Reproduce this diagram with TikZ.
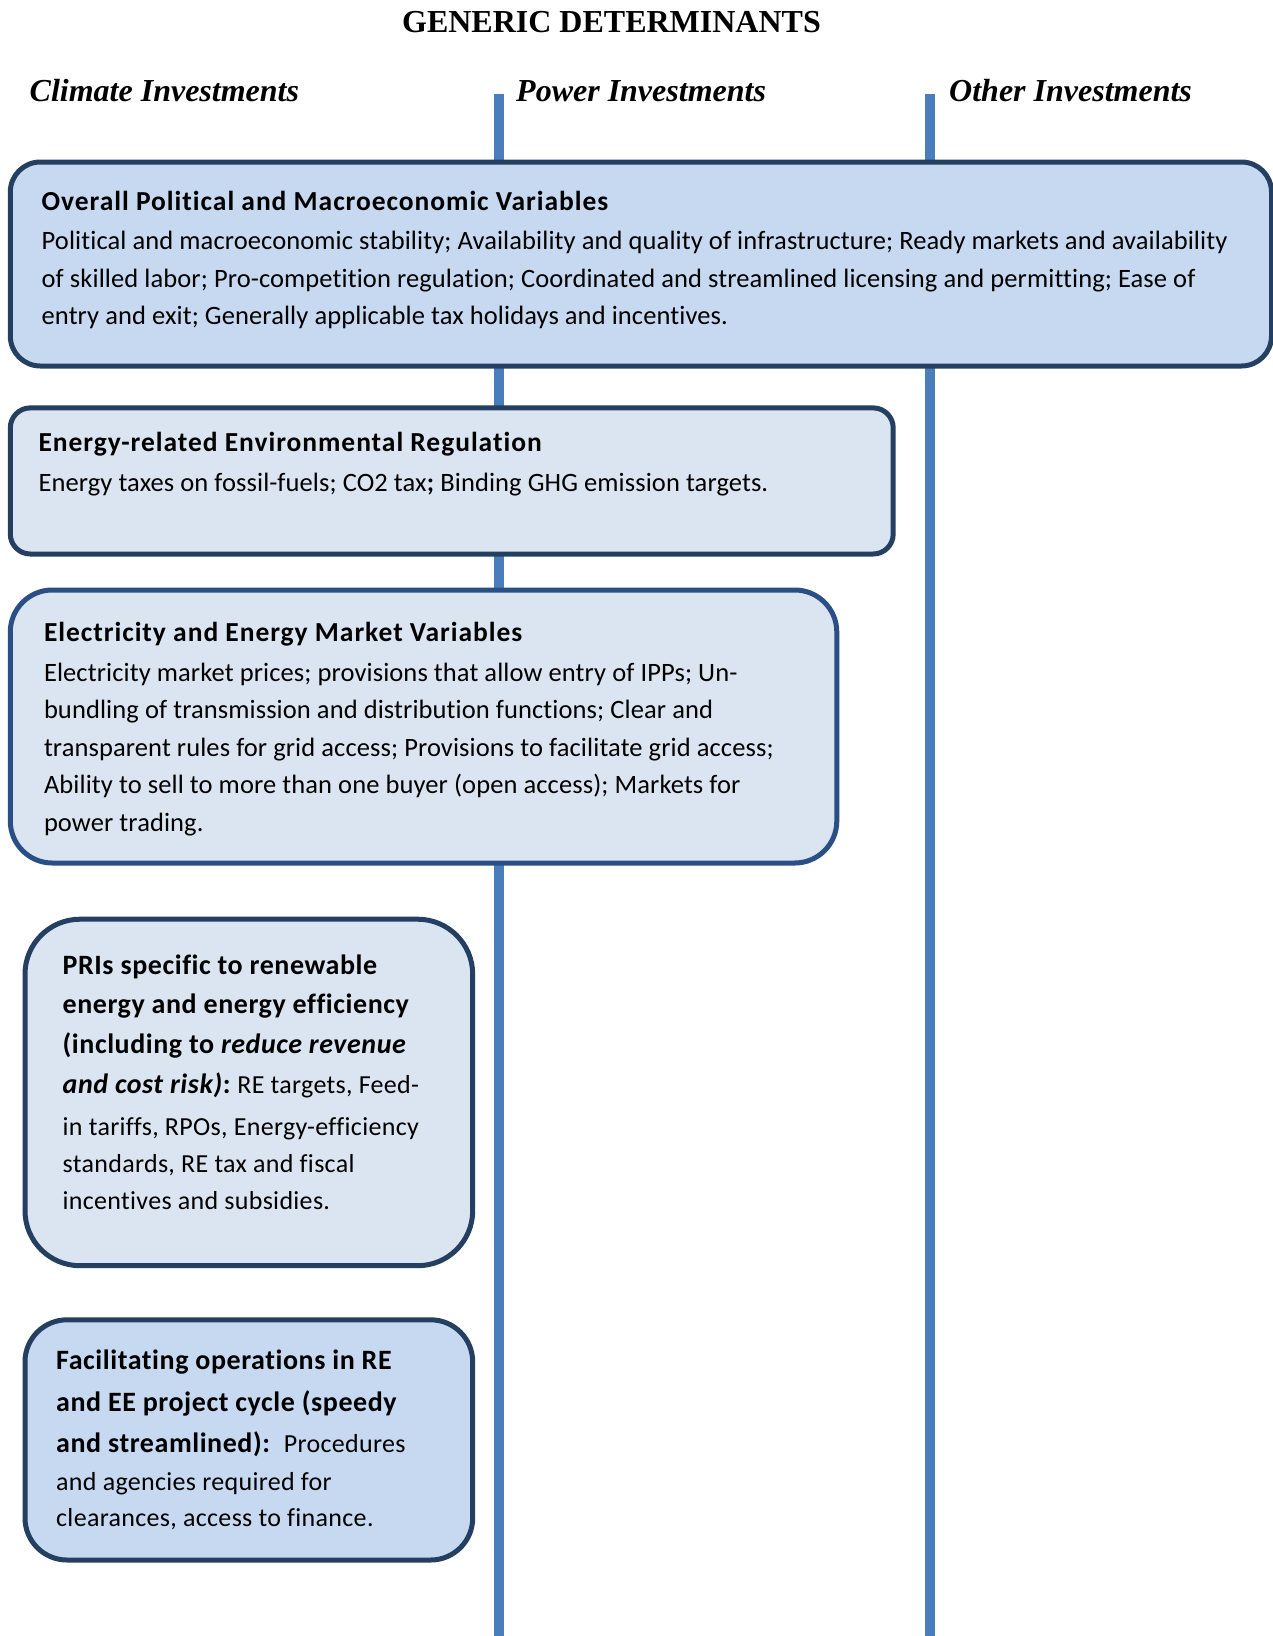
\documentclass[tikz,border=0pt]{standalone}
\usepackage{fontspec}
\setmainfont{Carlito}[Ligatures=NoCommon]
\newfontfamily\serifhead{Liberation Serif}
\newfontfamily\bodyfam{Carlito}[Ligatures=NoCommon, LetterSpace=0.4]
\newfontfamily\widereg{Carlito}[Ligatures=NoCommon, LetterSpace=1.2]
\newfontfamily\widebold{Carlito}[Ligatures=NoCommon, LetterSpace=2]
\newfontfamily\headbold{Carlito}[Ligatures=NoCommon, LetterSpace=3.5]
\definecolor{linecol}{HTML}{4A7EBB}
\definecolor{navy}{HTML}{243F60}
\definecolor{navyb}{HTML}{2A4F84}
\definecolor{filldark}{HTML}{C6D9F1}
\definecolor{filllight}{HTML}{DBE5F1}
\tikzset{
  boxbase/.style={draw=navy, line width=5pt, inner sep=0pt, anchor=north west},
  ln/.style={anchor=base west, inner sep=0pt},
  divider/.style={draw=linecol, line width=10pt},
  bodyfont/.style={font=\bodyfam\fontsize{26.5}{32}\selectfont},
  headfont/.style={font=\headbold\bfseries\fontsize{27.5}{33}\selectfont},
  pribold/.style={font=\widebold\bfseries\fontsize{28}{34}\selectfont},
  prireg/.style={font=\widereg\fontsize{26}{32}\selectfont},
  colhead/.style={ln, font=\serifhead\bfseries\itshape\fontsize{32}{38}\selectfont},
}
\begin{document}
\begin{tikzpicture}[x=1pt,y=-1pt]
\useasboundingbox (0,0) rectangle (1273,1636);
% title and column headers
\node[anchor=base, inner sep=0pt, font=\serifhead\bfseries\fontsize{32}{38}\selectfont] (title) at (611.5,32.5) {GENERIC DETERMINANTS};
\node[colhead] (hclim) at (29.5,101) {Climate Investments};
\node[colhead] (hpow) at (516,101) {Power Investments};
\node[colhead] (hoth) at (949,101) {Other Investments};
% dividers
\coordinate (d1top) at (499,94);
\coordinate (d1bot) at (499,1636);
\coordinate (d2top) at (929.5,94);
\coordinate (d2bot) at (929.5,1636);
\draw[divider] (d1top) -- (d1bot);
\draw[divider] (d2top) -- (d2bot);
% boxes
\node[boxbase, fill=filldark, rounded corners=30pt, minimum width=1261.2pt, minimum height=204pt] (b1) at (7.8,159.5) {};
\node[boxbase, fill=filllight, rounded corners=20pt, minimum width=882.9pt, minimum height=146.1pt] (b2) at (7.8,405.4) {};
\node[boxbase, draw=navyb, fill=filllight, rounded corners=42pt, minimum width=826.5pt, minimum height=273pt] (b3) at (7.8,587.5) {};
\node[boxbase, fill=filllight, rounded corners=55pt, minimum width=447.7pt, minimum height=346.5pt] (b4) at (22.5,916.7) {};
\node[boxbase, fill=filldark, rounded corners=42pt, minimum width=447.7pt, minimum height=240.2pt] (b5) at (22.5,1317.3) {};
% box 1 text
\node[ln, headfont] (b1h) at (41.5,210) {Overall Political and Macroeconomic Variables};
\node[ln, bodyfont] (b1a) at (41.5,249.5) {Political and macroeconomic stability; Availability and quality of infrastructure; Ready markets and availability};
\node[ln, bodyfont] (b1b) at (41.5,287) {of skilled labor; Pro-competition regulation; Coordinated and streamlined licensing and permitting; Ease of};
\node[ln, bodyfont] (b1c) at (41.5,324.5) {entry and exit; Generally applicable tax holidays and incentives.};
% box 2 text
\node[ln, headfont] (b2h) at (38.3,451.7) {Energy-related Environmental Regulation};
\node[ln, bodyfont] (b2a) at (38.3,491) {Energy taxes on fossil-fuels; CO2 tax\textbf{;} Binding GHG emission targets.};
% box 3 text
\node[ln, headfont] (b3h) at (43.8,641.6) {Electricity and Energy Market Variables};
\node[ln, bodyfont] (b3a) at (43.8,681) {Electricity market prices; provisions that allow entry of IPPs; Un-};
\node[ln, bodyfont] (b3b) at (43.8,718.5) {bundling of transmission and distribution functions; Clear and};
\node[ln, bodyfont] (b3c) at (43.8,756) {transparent rules for grid access; Provisions to facilitate grid access;};
\node[ln, bodyfont] (b3d) at (43.8,793.5) {Ability to sell to more than one buyer (open access); Markets for};
\node[ln, bodyfont] (b3e) at (43.8,831) {power trading.};
% box 4 text
\node[ln, pribold] (b4a) at (62.5,974.3) {PRIs specific to renewable};
\node[ln, pribold] (b4b) at (62.5,1013.5) {energy and energy efficiency};
\node[ln, pribold] (b4c) at (62.5,1053) {(including to \textit{reduce revenue}};
\node[ln, pribold] (b4d) at (62.5,1093) {\textit{and cost risk)}:\ {\widereg\mdseries\fontsize{26}{32}\selectfont RE targets, Feed-}};
\node[ln, prireg] (b4e) at (62.5,1135.5) {in tariffs, RPOs, Energy-efficiency};
\node[ln, prireg] (b4f) at (62.5,1172.5) {standards, RE tax and fiscal};
\node[ln, prireg] (b4g) at (62.5,1209.5) {incentives and subsidies.};
% box 5 text
\node[ln, pribold] (b5a) at (56,1369.5) {Facilitating operations in RE};
\node[ln, pribold] (b5b) at (56,1411) {and EE project cycle (speedy};
\node[ln, pribold] (b5c) at (56,1452) {and streamlined):\ \ {\widereg\mdseries\fontsize{26}{32}\selectfont Procedures}};
\node[ln, prireg] (b5d) at (56,1490) {and agencies required for};
\node[ln, prireg] (b5e) at (56,1526.5) {clearances, access to finance.};
\end{tikzpicture}
\end{document}
